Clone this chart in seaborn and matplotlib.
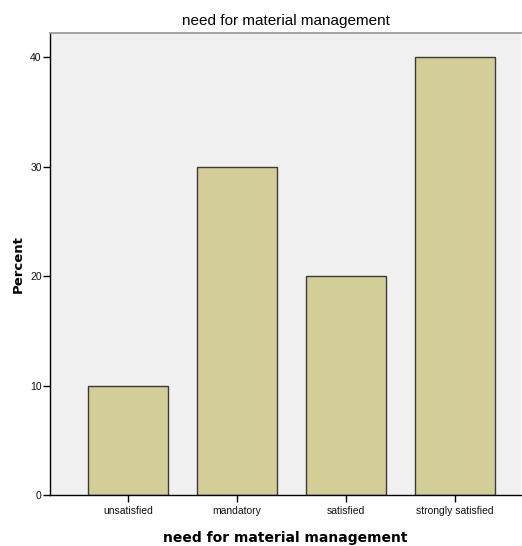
import matplotlib
matplotlib.use("Agg")
import matplotlib.pyplot as plt
import seaborn as sns
import pandas as pd

categories = ["unsatisfied", "mandatory", "satisfied", "strongly satisfied"]
percent = [10, 30, 20, 40]
yticks = [0, 10, 20, 30, 40]

df = pd.DataFrame({"cat": categories, "pct": percent})

sns.set_theme(style="white")
plt.rcParams["font.family"] = ["Liberation Sans Narrow", "Liberation Sans", "DejaVu Sans"]

fig = plt.figure(figsize=(5.22, 5.46), dpi=100)
ax = fig.add_axes([50 / 522, 51 / 546, 471 / 522, 462 / 546])
ax.set_facecolor("#F0F0F0")

sns.barplot(df, x="cat", y="pct", color="#D3CE97", edgecolor="#3a3a3a",
            linewidth=1.0, width=0.74, saturation=1, ax=ax)

ax.set_xlim(-0.716, 3.606)
ax.set_ylim(0, 42.2)
ax.set_yticks(yticks)
ax.tick_params(axis="both", direction="out", length=5, width=1, color="black",
               labelsize=7.5, bottom=True, left=True, pad=1, labelcolor="#111111")
ax.tick_params(axis="x", pad=3)

for s in ["left", "bottom"]:
    ax.spines[s].set_color("black")
    ax.spines[s].set_linewidth(1)
ax.spines["top"].set_color("#999999")
ax.spines["right"].set_visible(False)

ax.set_title("need for material management", fontsize=11, pad=6, color="black")
ax.set_xlabel("need for material management", fontsize=10, fontweight="bold",
              family=["DejaVu Sans"], labelpad=11, color="black")
ax.set_ylabel("Percent", fontsize=9.5, fontweight="bold", family=["DejaVu Sans"],
              labelpad=4, color="black")

fig.savefig("out.png", dpi=100)
